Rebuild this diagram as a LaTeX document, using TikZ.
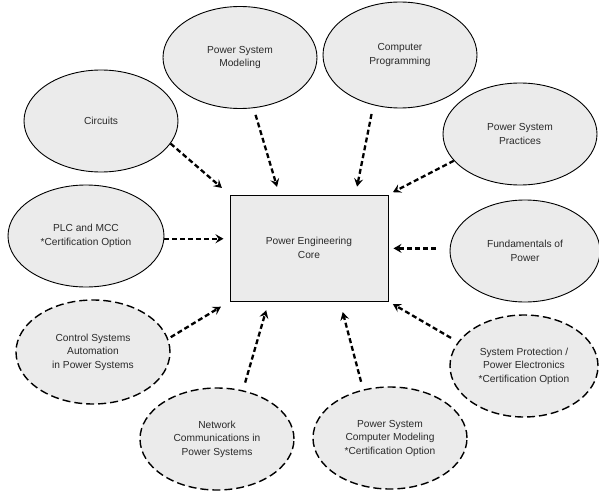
\documentclass[tikz,border=0pt]{standalone}
\usepackage{fontspec}
\setmainfont{Liberation Sans}
\usetikzlibrary{shapes.geometric,arrows.meta}
\definecolor{bubble}{HTML}{EBEBEB}
\definecolor{txt}{HTML}{2A2A2A}
\tikzset{
  topic/.style={ellipse, draw=black, line width=0.9pt, fill=bubble, inner sep=0pt,
    minimum width=154pt, minimum height=102pt, align=center, text=txt,
    font=\fontsize{10.2}{13.5}\selectfont},
  option/.style={topic, dash pattern=on 8pt off 4pt, line width=1.4pt},
  corebox/.style={rectangle, draw=black, line width=1pt, fill=bubble, inner sep=0pt,
    minimum width=158pt, minimum height=106pt, align=center, text=txt,
    font=\fontsize{10.2}{13.5}\selectfont},
  feed/.style={line width=2.3pt, dash pattern=on 5pt off 3pt,
    -{Stealth[length=8pt,width=9pt,inset=3pt]}}
}
\begin{document}
\begin{tikzpicture}[x=1pt,y=-1pt]
\useasboundingbox (0,0) rectangle (599,492);
\node[corebox] (core) at (309,248) {Power Engineering\\Core};
\node[topic] (circ) at (101,121) {Circuits};
\node[topic] (psm) at (240,57.5) {Power System\\Modeling};
\node[topic, minimum height=106pt] (cp) at (400,55) {Computer\\Programming};
\node[topic] (psp) at (520,134) {Power System\\Practices};
\node[topic, minimum width=156pt] (plc) at (86,236) {PLC and MCC\\*Certification Option};
\node[topic, minimum width=150pt] (fund) at (525,251) {Fundamentals of\\Power};
\node[option, minimum height=104pt] (ctrl) at (93,352) {Control Systems\\Automation\\in Power Systems};
\node[option] (net) at (217,439) {Network\\Communications in\\Power Systems};
\node[option] (pscm) at (390,438) {Power System\\Computer Modeling\\*Certification Option};
\node[option, minimum width=148pt] (prot) at (524,366) {System Protection /\\Power Electronics\\*Certification Option};

\draw[feed, shorten >=10pt] (circ.-18) -- (core.north west);
\draw[feed, shorten <=7pt, shorten >=8pt] (psm.-75.5) -- (core.119);
\draw[feed, shorten <=9pt, shorten >=8pt] (cp.-118) -- (core.49);
\draw[feed, shorten >=5pt] (psp.202) -- (core.north east);
\draw[feed, shorten >=6pt] (plc.-2) -- (plc.-2 -| core.west);
\draw[feed, shorten <=14pt, shorten >=5pt] (fund.178) -- (fund.178 -| core.east);
\draw[feed, shorten <=3pt, shorten >=10pt] (ctrl.10) -- (core.south west);
\draw[feed, shorten <=8pt, shorten >=9pt] (net.62.6) -- (core.233.7);
\draw[feed, shorten <=8pt, shorten >=11pt] (pscm.119.5) -- (core.-60.7);
\draw[feed, shorten <=8pt, shorten >=5pt] (prot.160) -- (core.south east);
\end{tikzpicture}
\end{document}
